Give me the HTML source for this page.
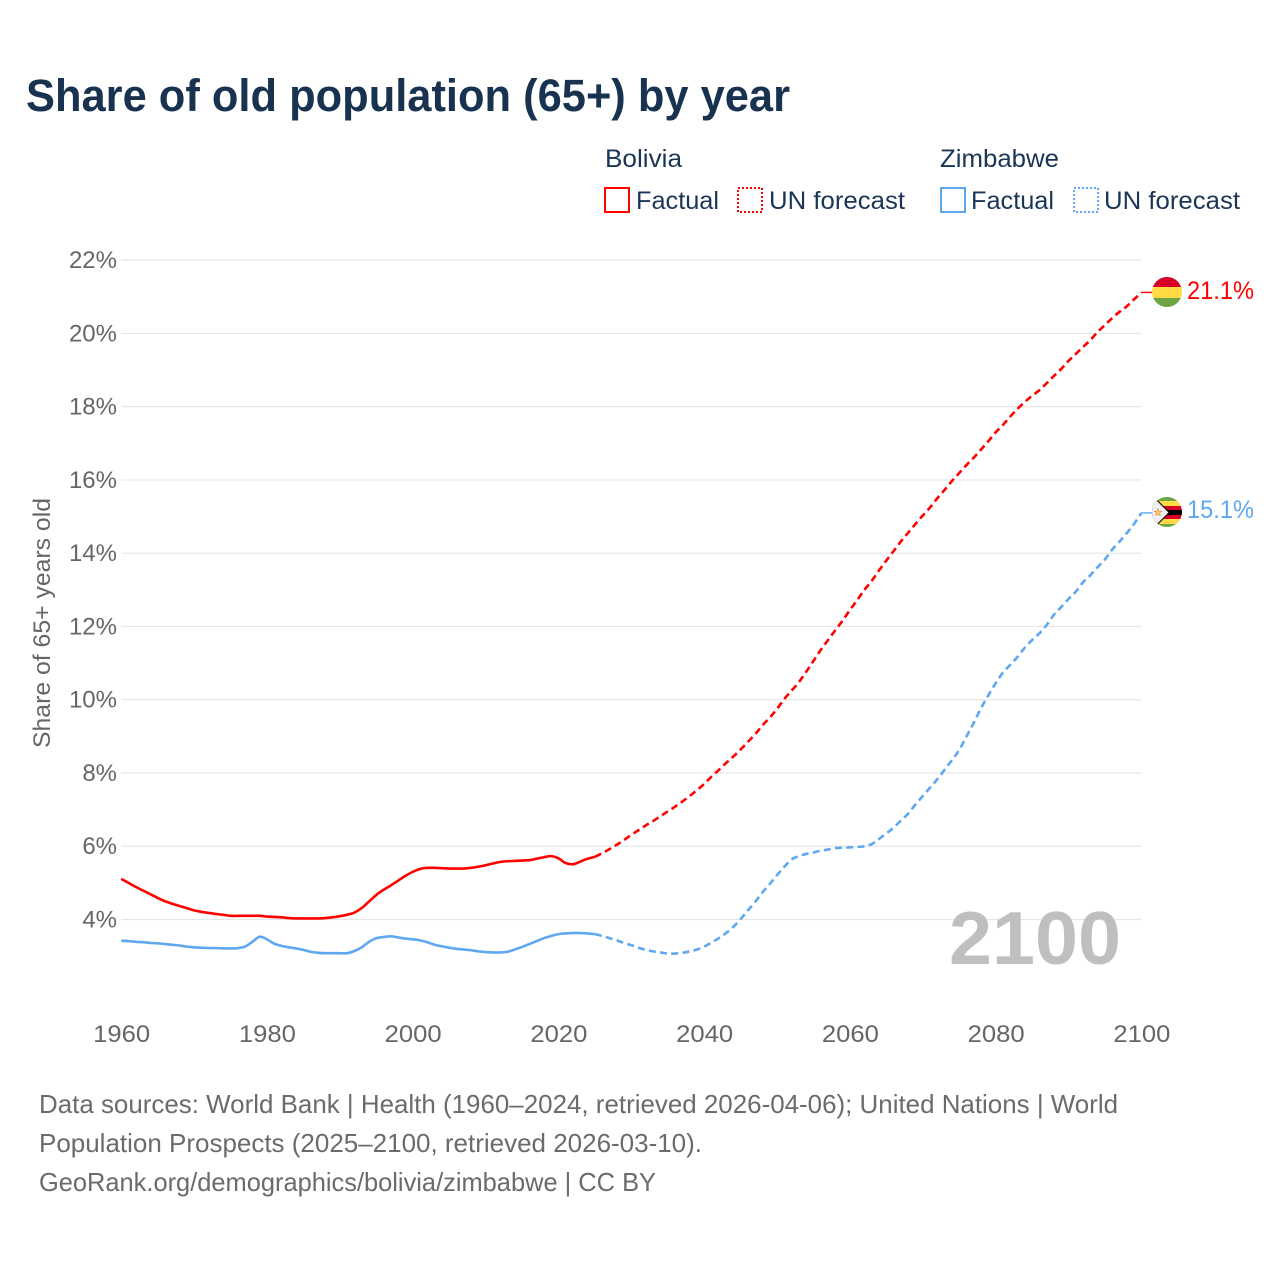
<!DOCTYPE html>
<html lang="en">
<head>
<meta charset="utf-8">
<title>Share of old population (65+) by year</title>
<style>
  html,body{margin:0;padding:0;background:#fff;}
  svg{display:block;}
  text{font-family:"Liberation Sans",sans-serif;}
</style>
</head>
<body>
<svg id="chart" xmlns="http://www.w3.org/2000/svg" width="1280" height="1280" viewBox="0 0 1280 1280">
  <defs>
    <clipPath id="flag-clip-bo"><circle cx="1167" cy="292" r="15"/></clipPath>
    <clipPath id="flag-clip-zw"><circle cx="1167" cy="512" r="15"/></clipPath>
  </defs>
  <rect width="1280" height="1280" fill="#ffffff"/>
  <text x="26" y="111" font-size="45" font-weight="700" fill="#18324f" textLength="764" lengthAdjust="spacingAndGlyphs">Share of old population (65+) by year</text>

  <g font-size="25" fill="#1b3556">
    <text x="605" y="167" textLength="77" lengthAdjust="spacingAndGlyphs">Bolivia</text>
    <rect x="605" y="188" width="24" height="24" fill="none" stroke="#ff0000" stroke-width="2" shape-rendering="crispEdges"/>
    <text x="636" y="209" textLength="83" lengthAdjust="spacingAndGlyphs">Factual</text>
    <rect x="738" y="188" width="24" height="24" fill="none" stroke="#ff0000" stroke-width="2" stroke-dasharray="2 2" shape-rendering="crispEdges"/>
    <text x="769" y="209" textLength="136" lengthAdjust="spacingAndGlyphs">UN forecast</text>
    <text x="940" y="167" textLength="119" lengthAdjust="spacingAndGlyphs">Zimbabwe</text>
    <rect x="941" y="188" width="24" height="24" fill="none" stroke="#5fa8f0" stroke-width="2" shape-rendering="crispEdges"/>
    <text x="971" y="209" textLength="83" lengthAdjust="spacingAndGlyphs">Factual</text>
    <rect x="1074" y="188" width="24" height="24" fill="none" stroke="#5fa8f0" stroke-width="2" stroke-dasharray="2 2" shape-rendering="crispEdges"/>
    <text x="1104" y="209" textLength="136" lengthAdjust="spacingAndGlyphs">UN forecast</text>
  </g>

  <g id="grid"></g>
  <g id="y-ticks" font-size="24" fill="#666666"></g>
  <g id="x-ticks" font-size="24" fill="#666666"></g>
  <text transform="translate(50,623) rotate(-90)" text-anchor="middle" font-size="24" fill="#666666" textLength="250" lengthAdjust="spacingAndGlyphs">Share of 65+ years old</text>

  <text x="949" y="964" font-size="75" font-weight="700" fill="#bfbfbf" textLength="172" lengthAdjust="spacingAndGlyphs">2100</text>

  <g id="series"></g>

  <g clip-path="url(#flag-clip-bo)">
    <rect x="1152" y="277" width="30" height="10" fill="#d80027"/>
    <rect x="1152" y="287" width="30" height="11" fill="#ffda44"/>
    <rect x="1152" y="298" width="30" height="9" fill="#6da544"/>
  </g>
  <text id="label-bolivia" x="1187" y="299" font-size="25" fill="#ff0000" textLength="67" lengthAdjust="spacingAndGlyphs">21.1%</text>

  <g clip-path="url(#flag-clip-zw)">
    <rect x="1152" y="497" width="30" height="30" fill="#f0f0f0"/>
    <rect x="1152" y="497" width="30" height="4" fill="#6da544"/>
    <rect x="1152" y="501" width="30" height="5" fill="#ffda44"/>
    <rect x="1152" y="506" width="30" height="4" fill="#d80027"/>
    <rect x="1152" y="510" width="30" height="5" fill="#000000"/>
    <rect x="1152" y="515" width="30" height="4" fill="#d80027"/>
    <rect x="1152" y="519" width="30" height="5" fill="#ffda44"/>
    <rect x="1152" y="524" width="30" height="3" fill="#6da544"/>
    <polygon points="1152,497 1157,499.500 1170,512.500 1157,525.500 1152,527" fill="#000000"/>
    <polygon points="1150,497 1157,501 1168.500,512.500 1157,524 1150,527" fill="#f0f0f0"/>
    <polygon points="1158,508.500 1159,511.200 1161.800,511.200 1159.600,513 1160.400,515.800 1158,514.200 1155.600,515.800 1156.400,513 1154.200,511.200 1157,511.200" fill="#ffda44" stroke="#d80027" stroke-width="0.300"/>
  </g>
  <text id="label-zimbabwe" x="1187" y="518" font-size="25" fill="#5fa8f0" textLength="67" lengthAdjust="spacingAndGlyphs">15.1%</text>

  <g font-size="26" fill="#6b6b6b">
    <text x="39" y="1113" textLength="1079" lengthAdjust="spacingAndGlyphs">Data sources: World Bank | Health (1960–2024, retrieved 2026-04-06); United Nations | World</text>
    <text x="39" y="1152" textLength="663" lengthAdjust="spacingAndGlyphs">Population Prospects (2025–2100, retrieved 2026-03-10).</text>
    <text x="39" y="1191" textLength="617" lengthAdjust="spacingAndGlyphs">GeoRank.org/demographics/bolivia/zimbabwe | CC BY</text>
  </g>
</svg>
<script>
const yTickValues = [4, 6, 8, 10, 12, 14, 16, 18, 20, 22];
const xTickYears = [1960, 1980, 2000, 2020, 2040, 2060, 2080, 2100];
const factualStartYear = 1960;
const forecastStartYear = 2025;

const boliviaFactual = [
  5.11,5.00,4.89,4.79,4.69,4.59,4.50,4.43,4.37,4.31,
  4.25,4.21,4.18,4.15,4.13,4.10,4.10,4.10,4.10,4.10,
  4.08,4.07,4.06,4.04,4.03,4.03,4.03,4.03,4.04,4.06,
  4.09,4.13,4.19,4.31,4.49,4.67,4.81,4.93,5.06,5.19,
  5.30,5.38,5.41,5.41,5.40,5.39,5.39,5.39,5.41,5.44,
  5.48,5.53,5.57,5.59,5.60,5.61,5.62,5.66,5.70,5.73,
  5.67,5.54,5.51,5.58,5.66,5.71
];
const boliviaForecast = [
  5.71,5.81,5.92,6.04,6.17,6.31,6.44,6.57,6.69,6.82,
  6.95,7.08,7.22,7.37,7.53,7.70,7.90,8.08,8.27,8.45,
  8.64,8.85,9.06,9.30,9.51,9.75,10.02,10.25,10.48,10.76,
  11.06,11.36,11.63,11.90,12.16,12.45,12.72,13.00,13.25,13.53,
  13.80,14.06,14.32,14.56,14.80,15.03,15.25,15.50,15.73,15.97,
  16.19,16.41,16.61,16.83,17.06,17.30,17.50,17.73,17.94,18.13,
  18.30,18.45,18.64,18.84,19.03,19.25,19.44,19.63,19.82,20.04,
  20.23,20.42,20.59,20.74,20.93,21.12
];
const zimbabweFactual = [
  3.42,3.41,3.39,3.38,3.36,3.35,3.33,3.31,3.29,3.26,
  3.24,3.23,3.22,3.22,3.21,3.21,3.22,3.26,3.39,3.53,
  3.46,3.34,3.28,3.24,3.21,3.17,3.12,3.09,3.08,3.08,
  3.08,3.08,3.14,3.24,3.39,3.49,3.52,3.54,3.51,3.48,
  3.46,3.43,3.38,3.31,3.27,3.23,3.20,3.18,3.16,3.13,
  3.11,3.10,3.10,3.12,3.18,3.25,3.33,3.41,3.49,3.55,
  3.60,3.62,3.63,3.63,3.62,3.60
];
const zimbabweForecast = [
  3.60,3.55,3.49,3.43,3.36,3.30,3.23,3.17,3.13,3.10,
  3.07,3.07,3.09,3.13,3.18,3.26,3.37,3.49,3.63,3.80,
  4.01,4.25,4.48,4.74,4.97,5.21,5.44,5.64,5.73,5.79,
  5.83,5.88,5.91,5.95,5.96,5.97,5.98,6.00,6.06,6.20,
  6.35,6.51,6.70,6.89,7.14,7.37,7.60,7.83,8.09,8.35,
  8.63,9.00,9.37,9.77,10.12,10.45,10.74,10.95,11.17,11.42,
  11.63,11.81,12.04,12.32,12.53,12.75,12.95,13.21,13.40,13.62,
  13.83,14.10,14.32,14.55,14.80,15.10
];

const NS = 'http://www.w3.org/2000/svg';
const xScale = function (year) { return 121.2 + (year - 1960) * (1020.2 / 140); };
const yScale = function (pct) { return 919.5 - (pct - 4) * 36.63; };

function pathFrom(startYear, values) {
  const pts = values.map(function (v, i) {
    return [xScale(startYear + i), yScale(v)];
  });
  let d = 'M' + pts[0][0].toFixed(2) + ' ' + pts[0][1].toFixed(2);
  for (let i = 0; i < pts.length - 1; i++) {
    const p0 = pts[Math.max(i - 1, 0)];
    const p1 = pts[i];
    const p2 = pts[i + 1];
    const p3 = pts[Math.min(i + 2, pts.length - 1)];
    const c1x = p1[0] + (p2[0] - p0[0]) / 6;
    const c1y = p1[1] + (p2[1] - p0[1]) / 6;
    const c2x = p2[0] - (p3[0] - p1[0]) / 6;
    const c2y = p2[1] - (p3[1] - p1[1]) / 6;
    d += ' C' + c1x.toFixed(2) + ' ' + c1y.toFixed(2) + ' ' + c2x.toFixed(2) + ' ' + c2y.toFixed(2) + ' ' + p2[0].toFixed(2) + ' ' + p2[1].toFixed(2);
  }
  return d;
}

const gridGroup = document.getElementById('grid');
const yTickGroup = document.getElementById('y-ticks');
yTickValues.forEach(function (t) {
  const line = document.createElementNS(NS, 'line');
  
  
  line.setAttribute('x1', xScale(1960));
  line.setAttribute('x2', xScale(2100));
  line.setAttribute('y1', yScale(t));
  line.setAttribute('y2', yScale(t));
  line.setAttribute('stroke', '#e6e6e6');
  line.setAttribute('stroke-width', '1.2');
  gridGroup.appendChild(line);

  const label = document.createElementNS(NS, 'text');
  
  
  label.setAttribute('x', 117);
  label.setAttribute('y', yScale(t) + 8);
  label.setAttribute('text-anchor', 'end');
  label.textContent = t + '%';
  yTickGroup.appendChild(label);
});

const xTickGroup = document.getElementById('x-ticks');
xTickYears.forEach(function (year) {
  const label = document.createElementNS(NS, 'text');
  
  
  label.setAttribute('x', xScale(year) + 0.5);
  label.setAttribute('y', 1042);
  label.setAttribute('text-anchor', 'middle');
  label.setAttribute('textLength', '57');
  label.setAttribute('lengthAdjust', 'spacingAndGlyphs');
  label.textContent = year;
  xTickGroup.appendChild(label);
});

const seriesGroup = document.getElementById('series');

function addLine(name, d, color, width, dash) {
  const p = document.createElementNS(NS, 'path');
  
  
  p.setAttribute('d', d);
  p.setAttribute('fill', 'none');
  p.setAttribute('stroke', color);
  p.setAttribute('stroke-width', width);
  p.setAttribute('stroke-linejoin', 'round');
  if (dash) { p.setAttribute('stroke-dasharray', dash); }
  seriesGroup.appendChild(p);
}

const RED = '#ff0000';
const BLUE = '#5fa8f0';
addLine('zimbabwe-factual-line', pathFrom(factualStartYear, zimbabweFactual), BLUE, '2.6', null);
addLine('zimbabwe-forecast-line', pathFrom(forecastStartYear, zimbabweForecast), BLUE, '2.6', '7 4.3');
addLine('bolivia-factual-line', pathFrom(factualStartYear, boliviaFactual), RED, '2.6', null);
addLine('bolivia-forecast-line', pathFrom(forecastStartYear, boliviaForecast), RED, '2.6', '7 4.3');

const boliviaLast = boliviaForecast[boliviaForecast.length - 1];
const zimbabweLast = zimbabweForecast[zimbabweForecast.length - 1];
addLine('bolivia-end-connector', 'M' + xScale(2100) + ' ' + yScale(boliviaLast) + ' H1152', RED, '1.4', null);
addLine('zimbabwe-end-connector', 'M' + xScale(2100) + ' ' + yScale(zimbabweLast) + ' H1152', BLUE, '1.4', null);
</script>
</body>
</html>
